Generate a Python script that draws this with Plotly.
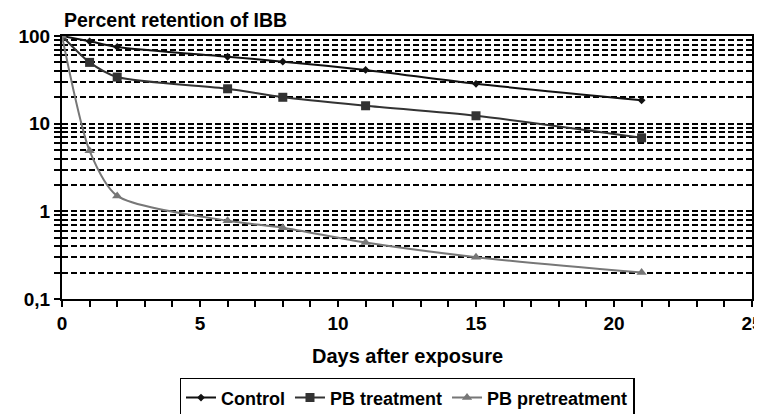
import plotly.graph_objects as go

days = [0, 1, 2, 6, 8, 11, 15, 21]
control = [100, 87, 75, 58, 51, 41, 28.5, 18.5]
pb_treatment = [100, 50, 34, 25, 20, 16, 12.3, 6.9]
pb_pretreatment = [100, 4.9, 1.5, 0.78, 0.65, 0.44, 0.30, 0.20]

y_tickvals = [0.1, 1, 10, 100]
y_ticktext = ["0,1", "1", "10", "100"]
x_tickvals = [0, 5, 10, 15, 20, 25]

FONT = "Liberation Sans, Arial, sans-serif"
BOLD = dict(family=FONT, color="black", weight="bold")

fig = go.Figure()
fig.add_trace(go.Scatter(x=days, y=control, name="Control", mode="lines+markers",
                         line=dict(color="#111111", width=2, shape="spline", smoothing=0.7),
                         marker=dict(symbol="diamond", size=6, color="#111111")))
fig.add_trace(go.Scatter(x=days, y=pb_treatment, name="PB treatment", mode="lines+markers",
                         line=dict(color="#333333", width=2, shape="spline", smoothing=0.7),
                         marker=dict(symbol="square", size=9, color="#333333")))
fig.add_trace(go.Scatter(x=days, y=pb_pretreatment, name="PB pretreatment", mode="lines+markers",
                         line=dict(color="#777777", width=2, shape="spline", smoothing=0.7),
                         marker=dict(symbol="triangle-up", size=9, color="#777777")))

# page body has an 8px default margin, so the figure is sized to fill the rest of the window
fig.update_layout(
    width=754, height=406,
    margin=dict(l=54, r=10, t=28, b=115, autoexpand=False),
    paper_bgcolor="white", plot_bgcolor="white",
    font=dict(family=FONT, color="black", size=16),
    showlegend=True,
    legend=dict(orientation="h", x=0.5, xanchor="center", y=-0.30, yanchor="top",
                bordercolor="black", borderwidth=1.5, bgcolor="white",
                font=dict(size=18, **BOLD),
                itemwidth=30, tracegroupgap=0),
    xaxis=dict(range=[0, 25], tickvals=x_tickvals, showgrid=False, zeroline=False,
               automargin=False, ticklabeloverflow="allow",
               showline=True, linecolor="black", linewidth=2, mirror=True,
               ticks="outside", ticklen=6, tickwidth=2, tickcolor="black",
               tickfont=dict(size=19, **BOLD),
               minor=dict(dtick=1, ticks="outside", ticklen=6, tickwidth=2, tickcolor="black")),
    yaxis=dict(type="log", range=[-1, 2], tickvals=y_tickvals, ticktext=y_ticktext,
               automargin=False, ticklabeloverflow="allow",
               showgrid=True, gridcolor="black", griddash="6px,3px", gridwidth=1.5,
               zeroline=False, showline=True, linecolor="black", linewidth=2, mirror=True,
               ticks="outside", ticklen=6, tickwidth=2, tickcolor="black",
               tickfont=dict(size=19, **BOLD),
               minor=dict(dtick="D1", showgrid=True, gridcolor="black", griddash="6px,3px",
                          gridwidth=1.5, ticks="outside", ticklen=6, tickwidth=2, tickcolor="black")),
    annotations=[
        dict(text="Percent retention of IBB", xref="paper", yref="paper",
             x=0.0, y=1.0, yshift=3, xanchor="left", yanchor="bottom", showarrow=False,
             font=dict(size=19.5, **BOLD)),
        dict(text="Days after exposure", xref="paper", yref="paper",
             x=0.5, y=-0.215, xanchor="center", yanchor="middle", showarrow=False,
             font=dict(size=20, **BOLD)),
    ],
)

fig.write_html("out.html")
